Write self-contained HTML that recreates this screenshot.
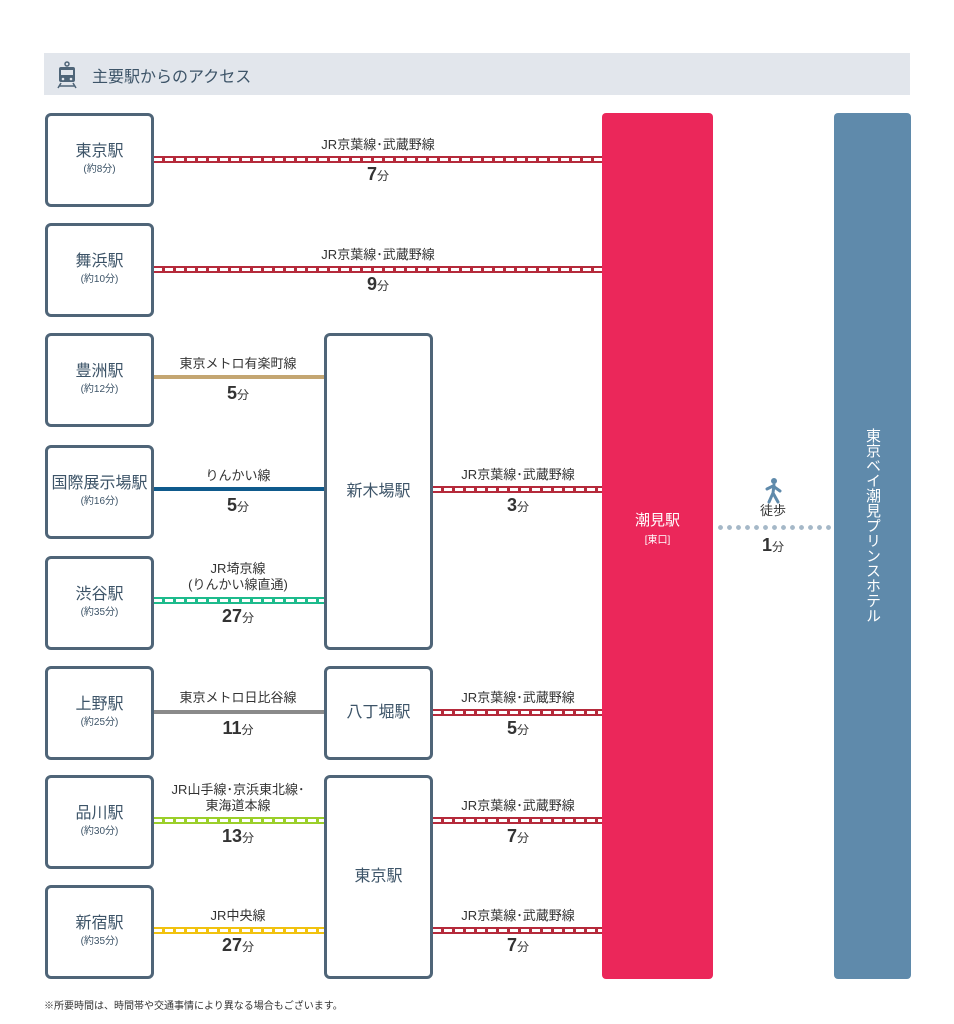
<!DOCTYPE html>
<html><head><meta charset="utf-8"><style>
*{margin:0;padding:0;box-sizing:border-box}
body{width:954px;height:1024px;background:#fff;position:relative;overflow:hidden;font-family:"Liberation Sans","Noto Sans CJK JP",sans-serif;color:#333}
.a{position:absolute}
.hdr{left:44px;top:53px;width:866px;height:42px;background:#e2e6ec}
.hdr span{position:absolute;left:48px;top:10px;font-size:16px;color:#3d5468}
.box{position:absolute;border:3px solid #4f6578;border-radius:6px;background:#fff;display:flex;flex-direction:column;align-items:center;justify-content:center;color:#3d5468}
.box b{font-weight:normal;font-size:16px;line-height:20px}
.box i{font-style:normal;font-size:10px;line-height:16px}
.l{left:45px;width:109px;height:94px}
.m{left:324px;width:109px}
.ln{position:absolute;height:4px}
.ds{position:absolute;height:7px;border-top:2px solid;border-bottom:2px solid}
.lb{position:absolute;font-size:13px;text-align:center;transform:translateX(-50%);white-space:nowrap;line-height:16px;color:#333}
.t{position:absolute;transform:translateX(-50%);white-space:nowrap;font-weight:bold;font-size:18px;color:#333}
.t small{font-size:12px;font-weight:normal}
</style></head><body>
<div class="a hdr">
<svg class="a" style="left:12px;top:8px" width="22" height="28" viewBox="0 0 22 28"><circle cx="11" cy="3" r="2" fill="none" stroke="#4f6578" stroke-width="1.5"/><rect x="3" y="6" width="16" height="15" rx="2" fill="#4f6578"/><rect x="5" y="9" width="12" height="5" fill="#e2e6ec"/><circle cx="7" cy="18" r="1.3" fill="#e2e6ec"/><circle cx="15" cy="18" r="1.3" fill="#e2e6ec"/><path d="M5 22 L2 27 M17 22 L20 27 M3 25 H19" stroke="#4f6578" stroke-width="1.5"/></svg>
<span>主要駅からのアクセス</span></div>

<div class="box l" style="top:113px"><b>東京駅</b><i>(約8分)</i></div>
<div class="box l" style="top:223px"><b>舞浜駅</b><i>(約10分)</i></div>
<div class="box l" style="top:333px"><b>豊洲駅</b><i>(約12分)</i></div>
<div class="box l" style="top:445px"><b>国際展示場駅</b><i>(約16分)</i></div>
<div class="box l" style="top:556px"><b>渋谷駅</b><i>(約35分)</i></div>
<div class="box l" style="top:666px"><b>上野駅</b><i>(約25分)</i></div>
<div class="box l" style="top:775px"><b>品川駅</b><i>(約30分)</i></div>
<div class="box l" style="top:885px"><b>新宿駅</b><i>(約35分)</i></div>

<div class="box m" style="top:333px;height:317px"><b>新木場駅</b></div>
<div class="box m" style="top:666px;height:94px"><b>八丁堀駅</b></div>
<div class="box m" style="top:775px;height:204px"><b>東京駅</b></div>

<div class="a" style="left:602px;top:113px;width:111px;height:866px;background:#eb275a;border-radius:4px;color:#fff;text-align:center">
<div style="position:absolute;top:396px;width:100%;font-size:15px">潮見駅</div>
<div style="position:absolute;top:418px;width:100%;font-size:10px">[東口]</div></div>
<div class="a" style="left:834px;top:113px;width:77px;height:866px;background:#5f8aab;border-radius:4px;color:#fff">
<div style="position:absolute;left:29px;top:315px;width:18px;font-size:15px;line-height:18px;writing-mode:vertical-rl">東京ベイ潮見プリンスホテル</div></div>

<svg class="a" style="left:764px;top:478px" width="20" height="26" viewBox="0 0 20 26"><circle cx="10" cy="3" r="3" fill="#5f8aab"/><path d="M10 7 L9 15 L5 24 M9 15 L14 24 M3 11 L9 8 L16 13" stroke="#5f8aab" stroke-width="3" fill="none" stroke-linecap="round"/></svg>
<div class="lb" style="left:773px;top:503px">徒歩</div>
<div class="a" style="left:716px;top:525px;width:116px;height:5px;background:radial-gradient(circle,#a5b8c8 2.2px,transparent 2.6px) 0 0/9px 5px repeat-x"></div>
<div class="t" style="left:773px;top:535px">1<small>分</small></div>

<div class="ds" style="left:154px;top:156px;width:448px;border-color:#b52a3b;background:repeating-linear-gradient(90deg,#fff 0 8px,#b52a3b 8px 11px)"></div>
<div class="lb" style="left:378px;top:137px">JR京葉線･武蔵野線</div>
<div class="t" style="left:378px;top:164px">7<small>分</small></div>
<div class="ds" style="left:154px;top:266px;width:448px;border-color:#b52a3b;background:repeating-linear-gradient(90deg,#fff 0 8px,#b52a3b 8px 11px)"></div>
<div class="lb" style="left:378px;top:247px">JR京葉線･武蔵野線</div>
<div class="t" style="left:378px;top:274px">9<small>分</small></div>

<div class="ln" style="left:154px;top:375px;width:170px;background:#c4a672"></div>
<div class="lb" style="left:238px;top:356px">東京メトロ有楽町線</div>
<div class="t" style="left:238px;top:383px">5<small>分</small></div>
<div class="ln" style="left:154px;top:487px;width:170px;background:#0f5a8c"></div>
<div class="lb" style="left:238px;top:468px">りんかい線</div>
<div class="t" style="left:238px;top:495px">5<small>分</small></div>
<div class="ds" style="left:154px;top:597px;width:170px;border-color:#1dbb8c;background:repeating-linear-gradient(90deg,#fff 0 8px,#1dbb8c 8px 11px)"></div>
<div class="lb" style="left:238px;top:561px">JR埼京線<br>(りんかい線直通)</div>
<div class="t" style="left:238px;top:606px">27<small>分</small></div>
<div class="ln" style="left:154px;top:710px;width:170px;background:#8a8a8a"></div>
<div class="lb" style="left:238px;top:690px">東京メトロ日比谷線</div>
<div class="t" style="left:238px;top:718px">11<small>分</small></div>
<div class="ds" style="left:154px;top:817px;width:170px;border-color:#9bcf2a;background:repeating-linear-gradient(90deg,#fff 0 8px,#9bcf2a 8px 11px)"></div>
<div class="lb" style="left:238px;top:782px">JR山手線･京浜東北線･<br>東海道本線</div>
<div class="t" style="left:238px;top:826px">13<small>分</small></div>
<div class="ds" style="left:154px;top:927px;width:170px;border-color:#f1c20f;background:repeating-linear-gradient(90deg,#fff 0 8px,#f1c20f 8px 11px)"></div>
<div class="lb" style="left:238px;top:908px">JR中央線</div>
<div class="t" style="left:238px;top:935px">27<small>分</small></div>

<div class="ds" style="left:433px;top:486px;width:169px;border-color:#b52a3b;background:repeating-linear-gradient(90deg,#fff 0 8px,#b52a3b 8px 11px)"></div>
<div class="lb" style="left:518px;top:467px">JR京葉線･武蔵野線</div>
<div class="t" style="left:518px;top:495px">3<small>分</small></div>
<div class="ds" style="left:433px;top:709px;width:169px;border-color:#b52a3b;background:repeating-linear-gradient(90deg,#fff 0 8px,#b52a3b 8px 11px)"></div>
<div class="lb" style="left:518px;top:690px">JR京葉線･武蔵野線</div>
<div class="t" style="left:518px;top:718px">5<small>分</small></div>
<div class="ds" style="left:433px;top:817px;width:169px;border-color:#b52a3b;background:repeating-linear-gradient(90deg,#fff 0 8px,#b52a3b 8px 11px)"></div>
<div class="lb" style="left:518px;top:798px">JR京葉線･武蔵野線</div>
<div class="t" style="left:518px;top:826px">7<small>分</small></div>
<div class="ds" style="left:433px;top:927px;width:169px;border-color:#b52a3b;background:repeating-linear-gradient(90deg,#fff 0 8px,#b52a3b 8px 11px)"></div>
<div class="lb" style="left:518px;top:908px">JR京葉線･武蔵野線</div>
<div class="t" style="left:518px;top:935px">7<small>分</small></div>

<div class="a" style="left:44px;top:997px;font-size:10px;color:#333">※所要時間は、時間帯や交通事情により異なる場合もございます。</div>
</body></html>
